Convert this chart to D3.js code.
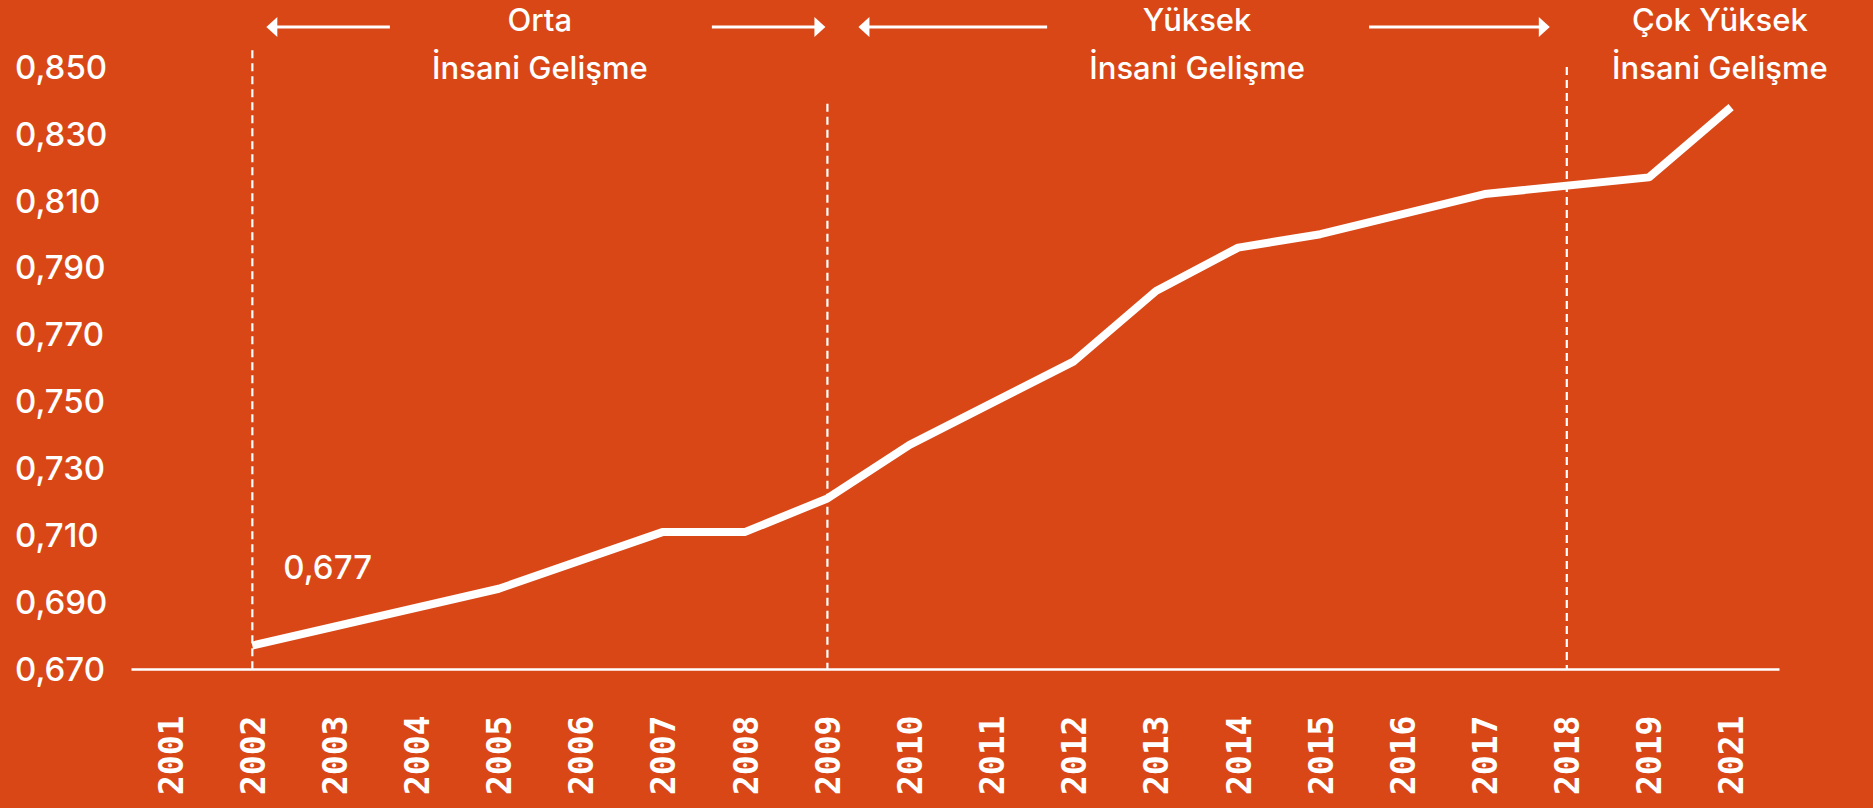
<!DOCTYPE html>
<html lang="tr">
<head>
<meta charset="utf-8">
<script src="https://cdn.jsdelivr.net/npm/d3@7"></script>
<style>
  html, body { margin: 0; padding: 0; background: #d94716; }
  svg { display: block; }
</style>
</head>
<body>
<svg id="chart" width="1873" height="808"></svg>
<script>
// Türkiye İnsani Gelişme Endeksi, 2001–2021
const years = ["2001","2002","2003","2004","2005","2006","2007","2008","2009","2010",
               "2011","2012","2013","2014","2015","2016","2017","2018","2019","2021"];

// Years with a plotted value and their index values
const lineYears  = ["2002","2005","2007","2008","2009","2010","2012","2013","2014","2015","2017","2019","2021"];
const lineValues = [0.677, 0.694, 0.711, 0.711, 0.721, 0.737, 0.762, 0.783, 0.796, 0.800, 0.812, 0.817, 0.838];

// Y axis ticks
const yTicks = [0.670, 0.690, 0.710, 0.730, 0.750, 0.770, 0.790, 0.810, 0.830, 0.850];
const yTickLabels = ["0,670","0,690","0,710","0,730","0,750","0,770","0,790","0,810","0,830","0,850"];

// Development category thresholds (year the category changed)
const dividerYears = ["2002", "2009", "2018"];
const dividerTops  = [0.855, 0.839, 0.850];

// Category headings
const bandLine1 = ["Orta", "Yüksek", "Çok Yüksek"];
const bandLine2 = ["İnsani Gelişme", "İnsani Gelişme", "İnsani Gelişme"];

// Start value callout
const calloutYear = "2002";
const calloutText = "0,677";

const W = 1873, H = 808;
const BG = "#d94716", FG = "#ffffff";
const textFont = "Inter, 'Noto Sans', sans-serif";

const svg = d3.select("#chart");
svg.append("rect").attr("width", W).attr("height", H).attr("fill", BG);

const x = d3.scalePoint().domain(years).range([131, 1779]).padding(0.53).align(0.45);
const y = d3.scaleLinear().domain([0.670, 0.850]).range([669, 67]);

// Y axis: labels only
const yAxis = svg.append("g")
  .call(d3.axisLeft(y).tickValues(yTicks).tickFormat((d, i) => yTickLabels[i]).tickSize(0));
yAxis.select(".domain").remove();
yAxis.selectAll("text")
  .attr("x", 15).attr("dy", "0.34em")
  .attr("text-anchor", "start")
  .attr("fill", FG)
  .style("font-family", textFont)
  .style("font-size", "33px")
  .style("font-weight", 500)
  .style("letter-spacing", "0px");

// X axis: baseline and rotated year labels
const xAxis = svg.append("g")
  .attr("transform", `translate(0,${y(0.670)})`)
  .call(d3.axisBottom(x).tickSize(0).tickSizeOuter(0));
xAxis.select(".domain").attr("stroke", FG).attr("stroke-width", 2.5);
xAxis.selectAll("text")
  .attr("transform", "rotate(-90)")
  .attr("x", -126).attr("y", 0).attr("dy", "0.36em")
  .attr("text-anchor", "start")
  .attr("fill", FG)
  .style("font-family", "'DejaVu Sans Mono', 'Liberation Mono', monospace")
  .style("font-size", "33px")
  .style("font-weight", 700);

// Dashed category dividers
svg.append("g").selectAll("line")
  .data(dividerYears)
  .join("line")
  .attr("x1", d => x(d)).attr("x2", d => x(d))
  .attr("y1", (d, i) => y(dividerTops[i]))
  .attr("y2", y(0.670))
  .attr("stroke", FG)
  .attr("stroke-width", 2.2)
  .attr("stroke-dasharray", "8,5");

// Index line
const line = d3.line()
  .x((d, i) => x(lineYears[i]))
  .y(d => y(d));
svg.append("path")
  .datum(lineValues)
  .attr("d", line)
  .attr("fill", "none")
  .attr("stroke", FG)
  .attr("stroke-width", 8)
  .attr("stroke-linejoin", "bevel")
  .attr("stroke-linecap", "butt");

// Callout for the first value
svg.append("text")
  .attr("x", x(calloutYear) + 31)
  .attr("y", y(lineValues[lineYears.indexOf(calloutYear)]) - 67)
  .attr("fill", FG)
  .style("font-family", textFont)
  .style("font-size", "33px")
  .style("font-weight", 500)
  .text(calloutText);

// Category headings with range arrows
const bandCenters = [
  (x(dividerYears[0]) + x(dividerYears[1])) / 2,
  (x(dividerYears[1]) + x(dividerYears[2])) / 2,
  (x(dividerYears[2]) + W) / 2
];
const heads = svg.append("g");
bandCenters.forEach((cx, i) => {
  heads.append("text")
    .attr("x", cx).attr("y", 31)
    .attr("text-anchor", "middle")
    .attr("fill", FG)
    .style("font-family", textFont)
    .style("font-size", "31px")
    .style("font-weight", 500)
    .style("letter-spacing", "0px")
    .text(bandLine1[i]);
  heads.append("text")
    .attr("x", cx).attr("y", 79)
    .attr("text-anchor", "middle")
    .attr("fill", FG)
    .style("font-family", textFont)
    .style("font-size", "31px")
    .style("font-weight", 500)
    .style("letter-spacing", "0px")
    .text(bandLine2[i]);
});

const arrowY = 27;
function arrow(from, to) {
  const dir = Math.sign(to - from);
  heads.append("line")
    .attr("x1", from).attr("x2", to - dir * 8)
    .attr("y1", arrowY).attr("y2", arrowY)
    .attr("stroke", FG).attr("stroke-width", 3);
  heads.append("path")
    .attr("d", `M${to},${arrowY} L${to - dir * 11},${arrowY - 10} L${to - dir * 11},${arrowY + 10} Z`)
    .attr("fill", FG);
}
// Arrows span from each heading out to the dividers around it
[[0, 1], [1, 2]].forEach(([a, b], i) => {
  const cx = bandCenters[i];
  const left = x(dividerYears[a]), right = x(dividerYears[b]);
  arrow(cx - 150, left + (i === 0 ? 14 : 31));
  arrow(cx + 172, right - (i === 0 ? 2 : 17));
});
</script>
</body>
</html>
